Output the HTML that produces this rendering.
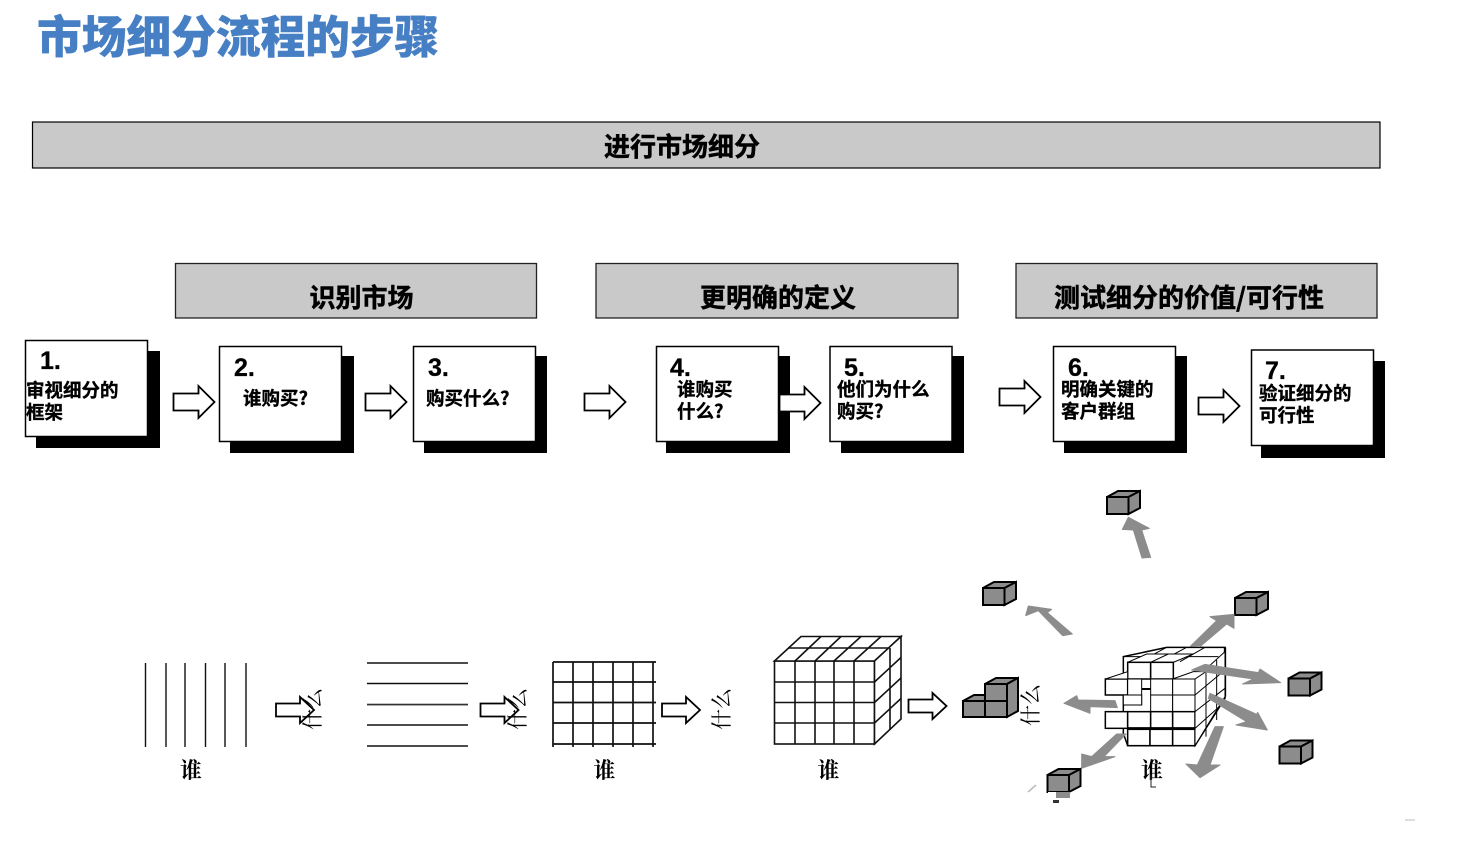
<!DOCTYPE html>
<html lang="zh"><head><meta charset="utf-8"><title>市场细分流程的步骤</title>
<style>
html,body{margin:0;padding:0;background:#fff;width:1461px;height:861px;overflow:hidden}
svg{display:block}
text{font-family:"Liberation Sans","Noto Sans CJK SC",sans-serif;fill:#000}
.h{font-size:26px;font-weight:700;text-anchor:middle;font-family:"Noto Sans CJK SC",sans-serif;stroke:#000;stroke-width:.5}
.n{font-size:25px;font-weight:700;font-family:"Liberation Sans",sans-serif;stroke:#000;stroke-width:.3}
.t{font-size:18.5px;font-weight:700;font-family:"Noto Sans CJK SC",sans-serif;stroke:#000;stroke-width:.35}
.w{font-size:22px;font-family:"Noto Serif CJK SC",serif;font-weight:700;text-anchor:middle}
.s{font-size:21px;font-family:"Noto Serif CJK SC",serif}
</style></head><body>
<svg width="1461" height="861" viewBox="0 0 1461 861" xmlns="http://www.w3.org/2000/svg">
<defs>
<polygon id="a" points="0,-8.5 25,-8.5 25,-16 41,0 25,16 25,8.5 0,8.5" fill="#fff" stroke="#000" stroke-width="1.8"/>
<polygon id="b" points="0,-6.5 24,-6.5 24,-13 38,0 24,13 24,6.5 0,6.5" fill="#fff" stroke="#000" stroke-width="1.8"/>
<g id="c" stroke="#000" stroke-width="2" fill="#8c8c8c">
<rect x="0" y="6" width="21.500" height="17"/>
<polygon points="0,6 11,0 33,0 21.500,6"/>
<polygon points="21.500,6 33,0 33,17 21.500,23"/>
</g>
</defs>

<text x="37" y="53" style="font-size:44.700px;font-weight:900;font-family:'Noto Sans CJK SC',sans-serif;fill:#467fc4" stroke="#467fc4" stroke-width=".4">市场细分流程的步骤</text>

<rect x="32.500" y="122" width="1347.500" height="46" fill="#c9c9c9" stroke="#000" stroke-width="1.2"/>
<text class="h" x="682" y="156">进行市场细分</text>

<g fill="#c9c9c9" stroke="#222" stroke-width="1.3">
<rect x="175.500" y="263.500" width="361" height="54.500"/>
<rect x="596" y="263.500" width="362" height="54.500"/>
<rect x="1016" y="263.500" width="361" height="54.500"/>
</g>
<text class="h" x="361.500" y="307">识别市场</text>
<text class="h" x="778" y="307">更明确的定义</text>
<text class="h" x="1189" y="307">测试细分的价值/可行性</text>

<g fill="#000">
<rect x="36" y="351" width="124" height="97"/>
<rect x="230" y="356" width="124" height="97"/>
<rect x="424" y="356" width="123" height="97"/>
<rect x="666" y="356" width="124" height="97"/>
<rect x="841" y="356" width="123" height="97"/>
<rect x="1064" y="356" width="123" height="97"/>
<rect x="1261" y="361" width="124" height="97"/>
</g>
<g fill="#fff" stroke="#000" stroke-width="1.5">
<rect x="25.500" y="340.500" width="122" height="96"/>
<rect x="219.500" y="346.500" width="122" height="95"/>
<rect x="413.500" y="346.500" width="122" height="95"/>
<rect x="656.500" y="346.500" width="122" height="95"/>
<rect x="830" y="346.500" width="122" height="95"/>
<rect x="1053.500" y="346.500" width="122" height="95"/>
<rect x="1251.500" y="350" width="122" height="95.500"/>
</g>

<text class="n" x="40" y="369">1.</text>
<text class="t" x="26" y="397">审视细分的</text>
<text class="t" x="26" y="419">框架</text>
<text class="n" x="234" y="376">2.</text>
<text class="t" x="243" y="405">谁购买?</text>
<text class="n" x="428" y="376">3.</text>
<text class="t" x="426" y="405">购买什么?</text>
<text class="n" x="670" y="376">4.</text>
<text class="t" x="677" y="396">谁购买</text>
<text class="t" x="677" y="418">什么?</text>
<text class="n" x="844" y="376">5.</text>
<text class="t" x="837" y="396">他们为什么</text>
<text class="t" x="837" y="418">购买?</text>
<text class="n" x="1068" y="376">6.</text>
<text class="t" x="1061" y="396">明确关键的</text>
<text class="t" x="1061" y="418">客户群组</text>
<text class="n" x="1265" y="379">7.</text>
<text class="t" x="1259" y="400">验证细分的</text>
<text class="t" x="1259" y="422">可行性</text>

<use href="#a" x="173.500" y="402"/>
<use href="#a" x="365.500" y="402"/>
<use href="#a" x="584.500" y="402"/>
<use href="#a" x="779.500" y="403"/>
<use href="#a" x="999.500" y="397"/>
<use href="#a" x="1198.500" y="406"/>

<g stroke="#111" stroke-width="1.4">
<path d="M145.500 663V747M166 663V747M185 663V747M205.500 663V747M225 663V747M246 663V747"/>
<path d="M367 663H468M367 683.500H468M367 704.500H468M367 725H468M367 746H468"/>
</g>
<path d="M367 705H468" stroke="#555" stroke-width="1"/>

<g stroke="#111" stroke-width="1.7" fill="none">
<path d="M553 662V747M573 662V747M593 662V747M613 662V747M633 662V747M653 662V747"/>
<path d="M553 662H656M553 682H656M553 702.500H656M553 723H656M553 744H656"/>
</g>

<g stroke="#111" stroke-width="1.6" fill="#fff">
<rect x="774.500" y="661" width="100" height="83"/>
<path d="M795 661V744M815 661V744M834 661V744M854 661V744M774.500 682H874.500M774.500 702.500H874.500M774.500 723H874.500" fill="none"/>
<polygon points="774.500,661 801,636.500 901,636.500 874.500,661"/>
<path fill="none" d="M795 661 821,636.500M815 661 841,636.500M834 661 861,636.500M854 661 881,636.500M788 648H890"/>
<polygon points="874.500,661 901,636.500 901,719 874.500,744"/>
<path fill="none" d="M874.500 682 901,657.500M874.500 702.500 901,678M874.500 723 901,698.500M890 648V730"/>
</g>

<use href="#b" x="276" y="710"/>
<use href="#b" x="480.500" y="710"/>
<use href="#b" x="662" y="710"/>
<use href="#b" x="908.500" y="706"/>

<text class="w" x="191" y="778">谁</text>
<text class="w" x="604.500" y="778">谁</text>
<text class="w" x="828.500" y="778">谁</text>
<text class="w" x="1152" y="778">谁</text>
<path d="M1151 775V787H1156" stroke="#222" stroke-width="1" fill="none"/>

<text class="s" transform="translate(320,730) rotate(-90)">什么</text>
<text class="s" transform="translate(525,730) rotate(-90)">什么</text>
<text class="s" transform="translate(729,730) rotate(-90)">什么</text>
<text class="s" transform="translate(1038,726) rotate(-90)">什么</text>

<g stroke="#000" stroke-width="2" fill="#8c8c8c">
<polygon points="985,684 996,678 1018,678 1007,684"/>
<polygon points="1007,684 1018,678 1018,711 1007,717"/>
<polygon points="963,701 974,695 985,695 985,701"/>
<rect x="985" y="684" width="22" height="17"/>
<rect x="963" y="701" width="22" height="16"/>
<rect x="985" y="701" width="22" height="16"/>
</g>

<use href="#c" x="1107" y="491"/>
<use href="#c" x="983" y="582"/>
<use href="#c" x="1235" y="592"/>
<use href="#c" x="1288.500" y="672.500"/>
<use href="#c" x="1279.500" y="740.500"/>
<use href="#c" x="1047.500" y="769"/>
<rect x="1048" y="792" width="8" height="7" fill="#fff"/>
<rect x="1056" y="792" width="14" height="6" fill="#8c8c8c"/>
<rect x="1053" y="800" width="6" height="3" fill="#333"/>
<path d="M1028 792 1036 785" stroke="#bbb" stroke-width="1.5"/>
<path d="M1405 820H1415" stroke="#bbb" stroke-width="1"/>

<g transform="translate(960 480) scale(.33333)" stroke="#000" stroke-width="4.500" fill="#fff">
<polygon points="490,530 620,502 795,502 795,655 705,797 503,797 490,760"/>
<path fill="none" stroke-width="3" d="M620,502 540,545M680,502 600,545M735,502 660,545M490 530H775"/>
<path fill="none" stroke-width="7" d="M795 502V650"/>
<polygon points="503,547 560,522 700,522 640,547" stroke-width="3"/>
<path fill="none" stroke-width="3" d="M572 547 625,522"/>
<rect x="503" y="547" width="69" height="50"/>
<rect x="572" y="547" width="68" height="50"/>
<rect x="436" y="597" width="67" height="48"/>
<polygon points="436,597 503,575 503,597" stroke-width="3"/>
<rect x="503" y="597" width="42" height="78" stroke-width="3"/>
<rect x="490" y="645" width="55" height="30" stroke-width="3"/>
<rect x="572" y="597" width="66" height="48" stroke-width="3"/>
<rect x="638" y="597" width="67" height="48" stroke-width="3"/>
<rect x="572" y="645" width="66" height="50" stroke-width="3"/>
<rect x="638" y="645" width="67" height="50" stroke-width="3"/>
<rect x="436" y="695" width="67" height="50"/>
<rect x="503" y="695" width="69" height="50"/>
<rect x="572" y="695" width="66" height="50"/>
<rect x="638" y="695" width="67" height="50"/>
<rect x="503" y="748" width="67" height="49"/>
<rect x="570" y="748" width="68" height="49"/>
<rect x="638" y="748" width="67" height="49"/>
<polygon points="705,597 795,515 795,650 705,797" stroke-width="3"/>
<polygon points="638,597 700,575 738,575 705,597" stroke-width="3"/>
<path fill="none" stroke-width="3" d="M705 645 795,570M705 695 795,625M705 745 795,665M738 570V770M770 540V720"/>
<path d="M545 627H572" stroke-width="6"/>
<path d="M503 745H705" stroke-width="7"/>
</g>

<g transform="translate(960 480) scale(.33333)" fill="#8c8c8c" stroke="#8c8c8c" stroke-width="3" stroke-linejoin="round">
<polygon points="505,112 568,145 545,150 572,232 546,234 520,150 487,148"/>
<polygon points="205,378 275,388 262,398 337,462 308,467 235,392 197,407"/>
<polygon points="692,498 770,422 750,410 822,403 822,445 800,432 720,500"/>
<polygon points="695,570 735,553 895,578 900,567 962,608 848,612 880,597"/>
<polygon points="750,640 890,703 893,697 922,750 828,735 860,725 745,655"/>
<polygon points="765,740 790,740 750,855 780,855 720,893 678,852 712,855"/>
<polygon points="470,762 498,762 432,830 465,830 365,865 365,822 395,830"/>
<polygon points="312,670 350,647 355,660 465,662 472,683 390,680 390,700"/>
</g>
</svg>
</body></html>
